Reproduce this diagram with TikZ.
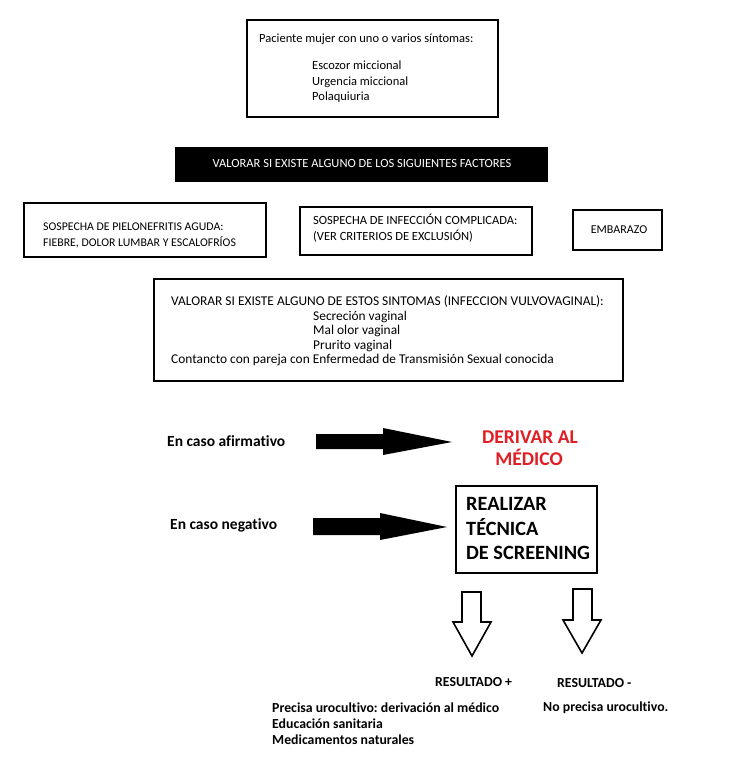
\documentclass[tikz,border=0pt]{standalone}
\usepackage{fontspec}
\setmainfont{Carlito}[Ligatures=NoCommon]
\frenchspacing
\begin{document}
\begin{tikzpicture}[x=1pt, y=-1pt,
    caja/.style={line width=2.2pt},
    txt/.style={anchor=base west, inner sep=0pt, font=\fontsize{12.5}{14}\selectfont},
    negrita/.style={anchor=base west, inner sep=0pt, font=\fontsize{13.8}{16}\selectfont\bfseries},
    grande/.style={inner sep=0pt, font=\fontsize{19.5}{22}\selectfont\bfseries},
    hueca/.style={line width=1.6pt, line join=miter}]
    \useasboundingbox[fill=white] (0,0) rectangle (752,760);

    % Paciente
    \draw[caja] (247,20) rectangle (498,117);
    \node[txt] (pac) at (259,43) {Paciente mujer con uno o varios síntomas:};
    \node[txt] (esc) at (312,70) {Escozor miccional};
    \node[txt] (urg) at (312,85) {Urgencia miccional};
    \node[txt] (pol) at (312,100) {Polaquiuria};

    % Factores
    \fill (175,147) rectangle (548,182);
    \node[inner sep=0pt, anchor=base, text=white, font=\fontsize{12.5}{14}\selectfont] (fact) at (362,167) {VALORAR SI EXISTE ALGUNO DE LOS SIGUIENTES FACTORES};

    \draw[caja] (24,203) rectangle (266,257);
    \node[txt, font=\fontsize{11.8}{14}\selectfont] (pie1) at (43,230) {SOSPECHA DE PIELONEFRITIS AGUDA:};
    \node[txt, font=\fontsize{11.8}{14}\selectfont] (pie2) at (43,246) {FIEBRE, DOLOR LUMBAR Y ESCALOFRÍOS};

    \draw[caja] (300,207) rectangle (532,255);
    \node[txt] (com1) at (313,224) {SOSPECHA DE INFECCIÓN COMPLICADA:};
    \node[txt] (com2) at (313,240) {(VER CRITERIOS DE EXCLUSIÓN)};

    \draw[caja] (573,210) rectangle (662,250);
    \node[txt, anchor=base, font=\fontsize{12}{14}\selectfont] (emb) at (619,233) {EMBARAZO};

    % Vulvovaginal
    \draw[caja] (154,279) rectangle (623,381);
    \node[txt, font=\fontsize{13.4}{15}\selectfont] (vul) at (171,305) {VALORAR SI EXISTE ALGUNO DE ESTOS SINTOMAS (INFECCION VULVOVAGINAL):};
    \node[txt, font=\fontsize{13.4}{15}\selectfont] (sec) at (313,320) {Secreción vaginal};
    \node[txt, font=\fontsize{13.4}{15}\selectfont] (mal) at (313,334) {Mal olor vaginal};
    \node[txt, font=\fontsize{13.4}{15}\selectfont] (pru) at (313,349) {Prurito vaginal};
    \node[txt, font=\fontsize{13.4}{15}\selectfont] (ets) at (171,363) {Contancto con pareja con Enfermedad de Transmisión Sexual conocida};

    % Afirmativo / negativo
    \node[negrita, font=\fontsize{15.5}{18}\selectfont\bfseries] (afi) at (167,446) {En caso afirmativo};
    \fill (316,434) -- (383,434) -- (383,428) -- (452,442) -- (383,455) -- (383,449) -- (316,449) -- cycle;
    \node[grande, anchor=base, text={rgb,255:red,225;green,30;blue,35}] (der1) at (530,443) {DERIVAR AL};
    \node[grande, anchor=base, text={rgb,255:red,225;green,30;blue,35}] (der2) at (529,465) {MÉDICO};

    \node[negrita, font=\fontsize{15.5}{18}\selectfont\bfseries] (neg) at (170,529) {En caso negativo};
    \fill (313,518) -- (380,518) -- (380,513) -- (447,527) -- (380,540) -- (380,535) -- (313,535) -- cycle;
    \draw[caja] (456,486) rectangle (597,573);
    \node[grande, anchor=base west, font=\fontsize{20.3}{22}\selectfont\bfseries] (rea1) at (466,510) {REALIZAR};
    \node[grande, anchor=base west, font=\fontsize{20.3}{22}\selectfont\bfseries] (rea2) at (466,535) {TÉCNICA};
    \node[grande, anchor=base west, font=\fontsize{20.3}{22}\selectfont\bfseries] (rea3) at (466,559) {DE SCREENING};

    % Resultados
    \draw[hueca] (462,592) -- (481,592) -- (481,622) -- (491,622) -- (472,656) -- (453,622) -- (462,622) -- cycle;
    \draw[hueca] (573,589) -- (592,589) -- (592,620) -- (601,620) -- (582,653) -- (563,620) -- (573,620) -- cycle;

    \node[negrita] (rpos) at (435,686) {RESULTADO +};
    \node[negrita] (rneg) at (557,687) {RESULTADO -};
    \node[negrita] (nopr) at (543,711) {No precisa urocultivo.};
    \node[negrita] (pre) at (272,712) {Precisa urocultivo: derivación al médico};
    \node[negrita] (edu) at (272,728) {Educación sanitaria};
    \node[negrita] (med) at (272,744) {Medicamentos naturales};
\end{tikzpicture}
\end{document}
